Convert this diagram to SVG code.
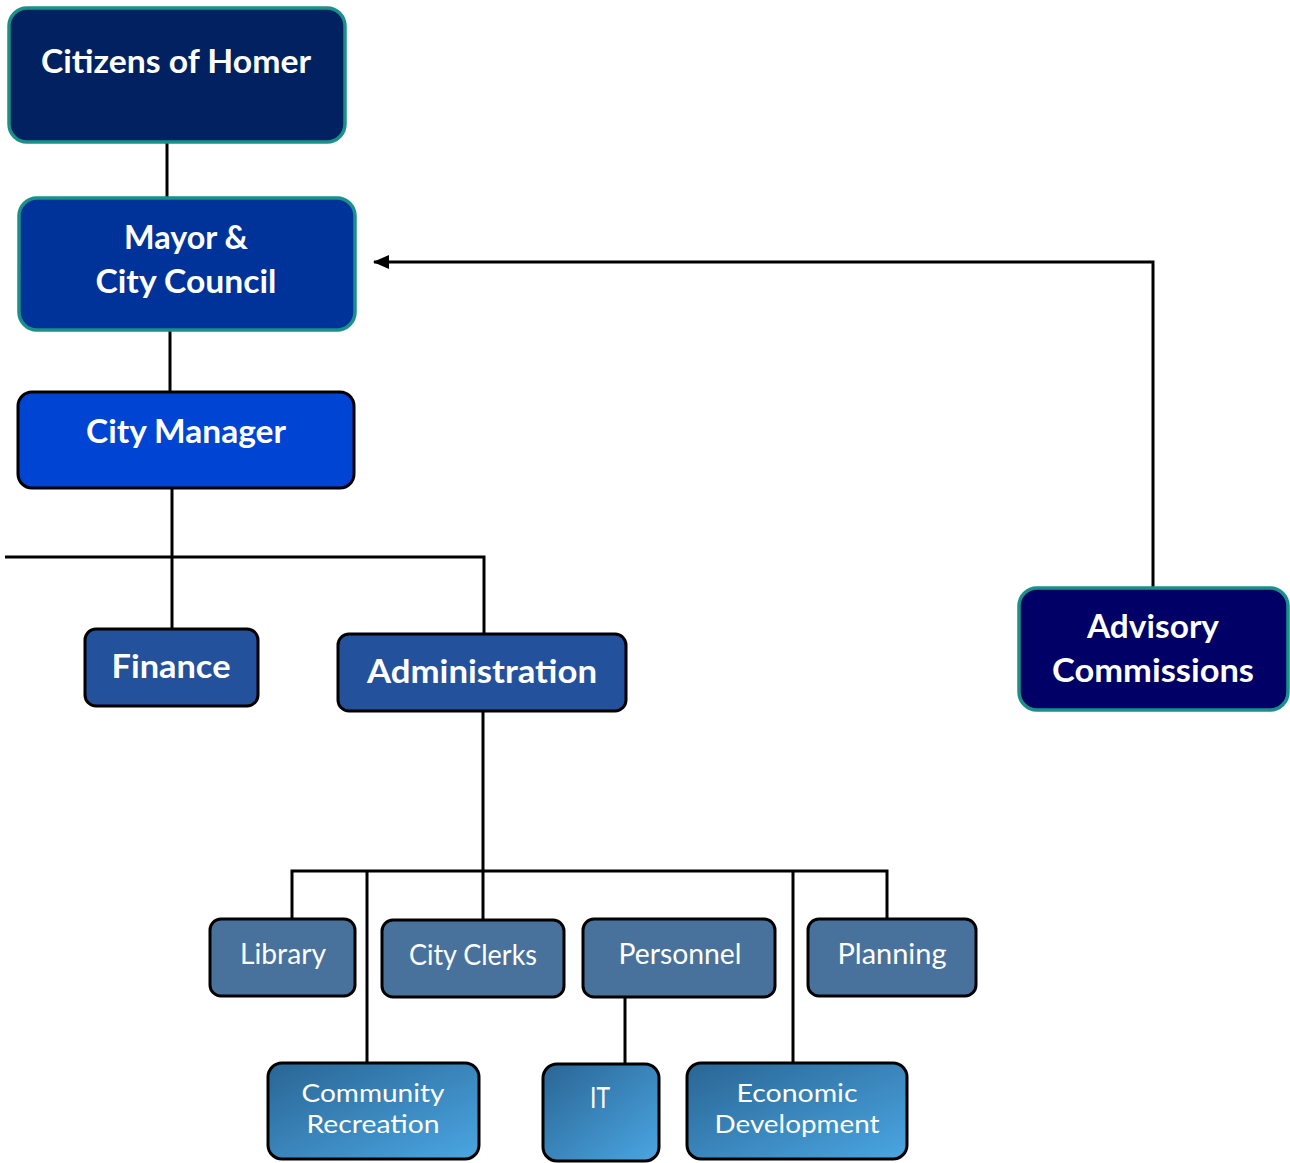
<svg xmlns="http://www.w3.org/2000/svg" width="1290" height="1163" viewBox="0 0 1290 1163">
<style>
.b{font-family:"Source Sans Pro","Lato","Liberation Sans",sans-serif;font-weight:bold;fill:#fff;text-anchor:middle;font-size:32px}
.n{font-family:"Source Sans Pro","Lato","Liberation Sans",sans-serif;fill:#fff;text-anchor:middle;font-size:28px}
.s{font-size:25px}
.teal{stroke:#1a9088;stroke-width:3.5}
.blk{stroke:#000;stroke-width:3}
.ln{stroke:#000;stroke-width:3;fill:none}
</style>
<defs>
<linearGradient id="g" x1="0" y1="0" x2="1" y2="1">
<stop offset="0" stop-color="#2a6594"/>
<stop offset="1" stop-color="#4aa6e2"/>
</linearGradient>
<marker id="ah" markerWidth="16" markerHeight="14" refX="15" refY="7" orient="auto" markerUnits="userSpaceOnUse" viewBox="0 0 16 14">
<path d="M0,0 L16,7 L0,14 z" fill="#000"/>
</marker>
</defs>
<rect width="1290" height="1163" fill="#fff"/>
<g id="connectors">
<line class="ln" x1="167" y1="142" x2="167" y2="197"/>
<line class="ln" x1="170" y1="330" x2="170" y2="392"/>
<line class="ln" x1="172" y1="488" x2="172" y2="629"/>
<polyline class="ln" points="5,557 484,557 484,634"/>
<line class="ln" x1="483" y1="711" x2="483" y2="920"/>
<polyline class="ln" points="292,919 292,871 887,871 887,919"/>
<line class="ln" x1="367" y1="871" x2="367" y2="1063"/>
<line class="ln" x1="793" y1="871" x2="793" y2="1063"/>
<line class="ln" x1="625" y1="997" x2="625" y2="1063"/>
<polyline class="ln" points="1153,588 1153,262 374,262" marker-end="url(#ah)"/>
</g>
<g id="citizens">
<rect x="9" y="8" width="336" height="134" rx="18" fill="#022160" class="teal"/>
<text class="b" x="176" y="73" textLength="270" lengthAdjust="spacingAndGlyphs">Citizens of Homer</text>
</g>
<g id="mayor">
<rect x="19" y="198" width="336" height="132" rx="18" fill="#003399" class="teal"/>
<text class="b" x="186" y="249" textLength="124" lengthAdjust="spacingAndGlyphs">Mayor &amp;</text>
<text class="b" x="186" y="293" textLength="181" lengthAdjust="spacingAndGlyphs">City Council</text>
</g>
<g id="manager">
<rect x="18" y="392" width="336" height="96" rx="14" fill="#0044d4" class="blk"/>
<text class="b" x="186" y="443" textLength="200" lengthAdjust="spacingAndGlyphs">City Manager</text>
</g>
<g id="finance">
<rect x="85" y="629" width="173" height="77" rx="11" fill="#23519b" class="blk"/>
<text class="b" x="171" y="678" textLength="119" lengthAdjust="spacingAndGlyphs">Finance</text>
</g>
<g id="administration">
<rect x="338" y="634" width="288" height="77" rx="11" fill="#23519b" class="blk"/>
<text class="b" x="482" y="683" textLength="230" lengthAdjust="spacingAndGlyphs">Administration</text>
</g>
<g id="advisory">
<rect x="1019" y="588" width="269" height="122" rx="18" fill="#000066" class="teal"/>
<text class="b" x="1153" y="638" textLength="132" lengthAdjust="spacingAndGlyphs">Advisory</text>
<text class="b" x="1153" y="682" textLength="202" lengthAdjust="spacingAndGlyphs">Commissions</text>
</g>
<g id="library">
<rect x="210" y="919" width="145" height="77" rx="11" fill="#48729b" class="blk"/>
<text class="n" x="283" y="964" textLength="86" lengthAdjust="spacingAndGlyphs">Library</text>
</g>
<g id="clerks">
<rect x="382" y="920" width="182" height="77" rx="11" fill="#48729b" class="blk"/>
<text class="n" x="473" y="965" textLength="128" lengthAdjust="spacingAndGlyphs">City Clerks</text>
</g>
<g id="personnel">
<rect x="583" y="919" width="192" height="78" rx="11" fill="#48729b" class="blk"/>
<text class="n" x="680" y="964" textLength="123" lengthAdjust="spacingAndGlyphs">Personnel</text>
</g>
<g id="planning">
<rect x="808" y="919" width="168" height="77" rx="11" fill="#48729b" class="blk"/>
<text class="n" x="892" y="964" textLength="109" lengthAdjust="spacingAndGlyphs">Planning</text>
</g>
<g id="recreation">
<rect x="268" y="1063" width="211" height="96" rx="14" fill="url(#g)" class="blk"/>
<text class="n s" x="373" y="1102" textLength="143" lengthAdjust="spacingAndGlyphs">Community</text>
<text class="n s" x="373" y="1133" textLength="133" lengthAdjust="spacingAndGlyphs">Recreation</text>
</g>
<g id="it">
<rect x="543" y="1064" width="116" height="97" rx="14" fill="url(#g)" class="blk"/>
<text class="n" x="600" y="1108" textLength="20" lengthAdjust="spacingAndGlyphs">IT</text>
</g>
<g id="economic">
<rect x="687" y="1063" width="220" height="96" rx="14" fill="url(#g)" class="blk"/>
<text class="n s" x="797" y="1102" textLength="121" lengthAdjust="spacingAndGlyphs">Economic</text>
<text class="n s" x="797" y="1133" textLength="165" lengthAdjust="spacingAndGlyphs">Development</text>
</g>
</svg>
